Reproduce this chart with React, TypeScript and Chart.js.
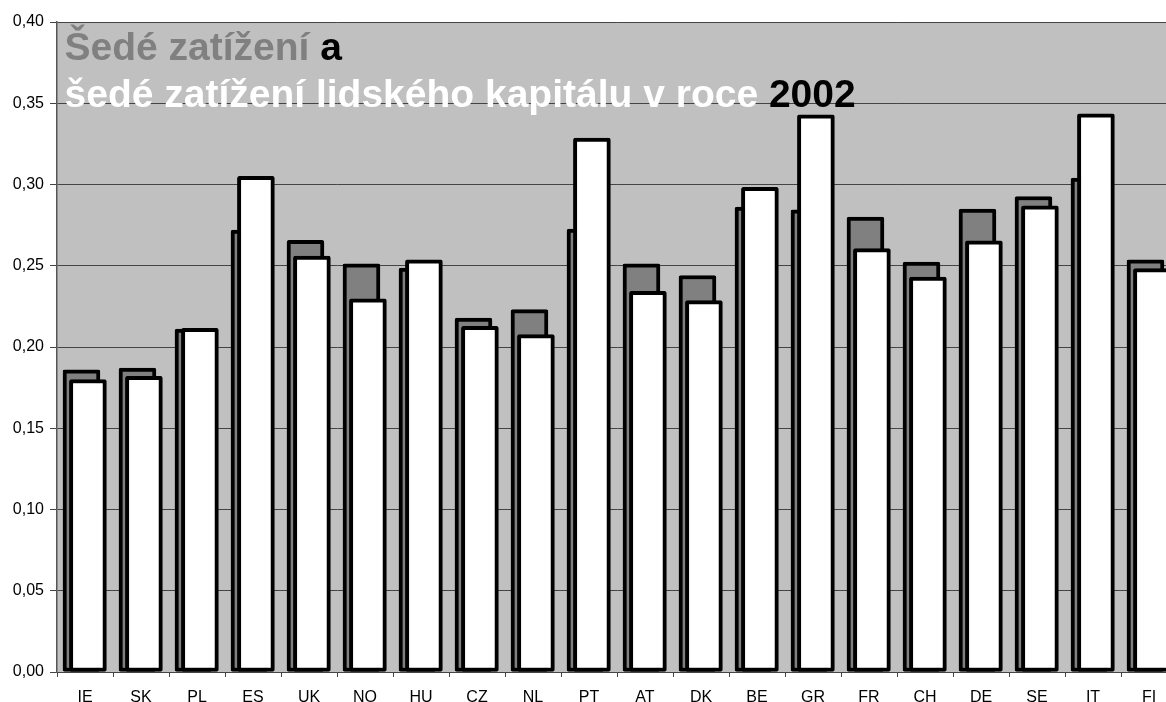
import React, { useEffect, useRef } from "react";
import { Chart, registerables } from "chart.js";

Chart.register(...registerables);

const categories = ["IE", "SK", "PL", "ES", "UK", "NO", "HU", "CZ", "NL", "PT", "AT", "DK", "BE", "GR", "FR", "CH", "DE", "SE", "IT", "FI"];
const greyBurden = [0.186, 0.187, 0.211, 0.272, 0.2656, 0.2512, 0.2486, 0.2178, 0.223, 0.2726, 0.2512, 0.244, 0.2861, 0.2844, 0.280, 0.2523, 0.2849, 0.2926, 0.3039, 0.2537];
const humanCapitalBurden = [0.180, 0.182, 0.2115, 0.305, 0.256, 0.2297, 0.2537, 0.2127, 0.2076, 0.3285, 0.2342, 0.2285, 0.2982, 0.3429, 0.2605, 0.243, 0.2654, 0.2869, 0.3435, 0.2482];
const yTicks = [0, 0.05, 0.1, 0.15, 0.2, 0.25, 0.3, 0.35, 0.4];

const FONT = "Arial, 'Liberation Sans', sans-serif";

const plotBg = {
  id: "plotBg",
  beforeDraw(chart: any) {
    const { ctx, chartArea: a } = chart;
    ctx.save();
    ctx.fillStyle = "#C0C0C0";
    ctx.fillRect(a.left, a.top, a.right - a.left, a.bottom - a.top);
    ctx.restore();
  },
};

const titlePlugin = {
  id: "inTitle",
  beforeDatasetsDraw(chart: any) {
    const { ctx } = chart;
    ctx.save();
    ctx.font = `bold 39px ${FONT}`;
    ctx.textBaseline = "alphabetic";
    ctx.textAlign = "left";
    const x0 = 64.5;
    const parts1: [string, string][] = [["Šedé zatížení", "#808080"], [" a", "#000000"]];
    const parts2: [string, string][] = [["šedé zatížení lidského kapitálu v roce", "#FFFFFF"], [" 2002", "#000000"]];
    const drawLine = (parts: [string, string][], y: number) => {
      let x = x0;
      for (const [t, c] of parts) {
        ctx.fillStyle = c;
        ctx.fillText(t, x, y);
        x += ctx.measureText(t).width;
      }
    };
    drawLine(parts1, 60);
    drawLine(parts2, 106.5);
    ctx.restore();
  },
};

export default function App() {
  const ref = useRef<HTMLCanvasElement>(null);
  useEffect(() => {
    if (!ref.current) return;
    const barStyle = {
      xAxisID: "xb",
      borderColor: "#000000",
      borderWidth: 4,
      borderSkipped: false,
      borderRadius: 2,
      barThickness: 37,
      grouped: false,
    };
    const chart = new Chart(ref.current, {
      type: "bar",
      data: {
        labels: categories,
        datasets: [
          {
            ...barStyle,
            label: "Šedé zatížení",
            data: greyBurden.map((v, i) => ({ x: i - 0.063, y: v })),
            backgroundColor: "#808080",
            order: 2,
          } as any,
          {
            ...barStyle,
            label: "šedé zatížení lidského kapitálu",
            data: humanCapitalBurden.map((v, i) => ({ x: i + 0.052, y: v })),
            backgroundColor: "#FFFFFF",
            order: 1,
          } as any,
        ],
      },
      options: {
        animation: false,
        responsive: false,
        devicePixelRatio: 1,
        layout: { padding: { top: 22, right: 0, left: 0, bottom: 0 } },
        plugins: { legend: { display: false }, tooltip: { enabled: false }, title: { display: false } },
        scales: {
          xb: {
            type: "linear",
            position: "bottom",
            weight: 10,
            display: true,
            offset: false,
            min: -0.5,
            max: categories.length - 0.5,
            grid: { display: false, drawTicks: false },
            border: { display: false },
            ticks: { display: false },
            afterFit(scale: any) {
              scale.height = 0;
            },
          },
          x: {
            type: "category",
            position: "bottom",
            weight: 0,
            offset: true,
            grid: { offset: true, drawOnChartArea: false, tickLength: 5, color: "#444444" },
            border: { display: true, color: "#444444" },
            ticks: { font: { family: FONT, size: 16 }, color: "#000000", padding: 11, maxRotation: 0, autoSkip: false },
            afterFit(scale: any) {
              scale.height = 30;
            },
          },
          y: {
            type: "linear",
            min: 0,
            max: 0.4,
            afterBuildTicks(scale: any) {
              scale.ticks = yTicks.map((v) => ({ value: v }));
            },
            grid: { color: "#444444", tickLength: 7, tickColor: "#444444" },
            border: { display: true, color: "#555555", width: 1.5 },
            ticks: {
              font: { family: FONT, size: 16 },
              color: "#000000",
              padding: 6,
              callback: (v: any) => Number(v).toFixed(2).replace(".", ","),
            },
            afterFit(scale: any) {
              scale.width = 57;
            },
          },
        },
      } as any,
      plugins: [plotBg, titlePlugin],
    });
    return () => chart.destroy();
  }, []);
  return (
    <div style={{ position: "fixed", left: 0, top: 0, width: 1166, height: 702, overflow: "hidden", background: "#fff" }}>
      <canvas ref={ref} width={1177} height={702} style={{ display: "block" }} />
    </div>
  );
}
